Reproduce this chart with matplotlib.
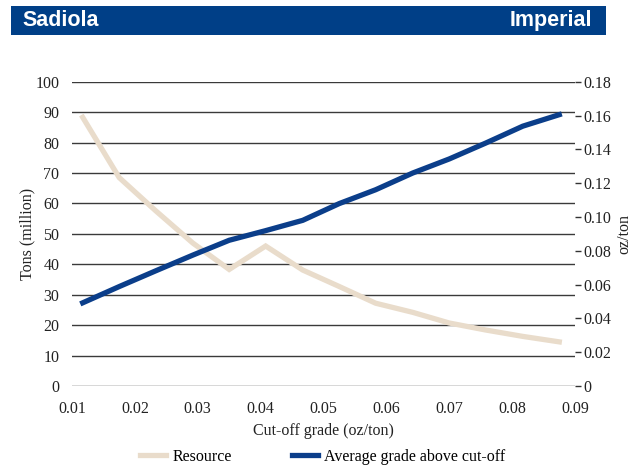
import matplotlib
matplotlib.use("Agg")
import matplotlib.pyplot as plt
from matplotlib.patches import Rectangle
from matplotlib.lines import Line2D

# Data
cutoff = [0.0117, 0.0175, 0.0233, 0.0292, 0.0350, 0.0408, 0.0467,
          0.0525, 0.0583, 0.0642, 0.0700, 0.0758, 0.0817, 0.0875]
resource = [88.3, 68.5, 57.6, 47.0, 38.3, 46.0, 38.1,
            32.7, 27.2, 24.2, 20.7, 18.4, 16.3, 14.5]
avg_grade = [0.0492, 0.0588, 0.0681, 0.0774, 0.0862, 0.0919, 0.0980,
             0.1079, 0.1161, 0.1260, 0.1343, 0.1437, 0.1537, 0.1605]
left_ticks = [0, 10, 20, 30, 40, 50, 60, 70, 80, 90, 100]
right_ticks = [0, 0.02, 0.04, 0.06, 0.08, 0.10, 0.12, 0.14, 0.16, 0.18]
right_labels = ["0", "0.02", "0.04", "0.06", "0.08", "0.10", "0.12", "0.14", "0.16", "0.18"]
x_ticks = [0.01, 0.02, 0.03, 0.04, 0.05, 0.06, 0.07, 0.08, 0.09]
x_labels = ["0.01", "0.02", "0.03", "0.04", "0.05", "0.06", "0.07", "0.08", "0.09"]

BLUE = "#0b3e8a"
BAR = "#003f87"
BEIGE = "#e9dccb"
TXT = "#222222"
serif = "Liberation Serif"
fs = 11.5

W, H = 635, 468
fig = plt.figure(figsize=(W / 100, H / 100), dpi=100)

# header bar
fig.patches.append(Rectangle((11 / W, 1 - 35 / H), (606 - 11) / W, (35 - 5.7) / H,
                             transform=fig.transFigure, facecolor=BAR,
                             edgecolor="none", zorder=0))
fig.text(22 / W, 1 - 20.5 / H, "Sadiola", color="white", fontsize=15.5,
         fontweight="bold", family="Liberation Sans", va="center", ha="left")
fig.text(592 / W, 1 - 20.5 / H, "Imperial", color="white", fontsize=15.5,
         fontweight="bold", family="Liberation Sans", va="center", ha="right")

ax = fig.add_axes([72 / W, 1 - 386 / H, (575 - 72) / W, (386 - 81.7) / H])
ax2 = ax.twinx()

ax.set_xlim(0.01, 0.09)
ax.set_ylim(0, 100)
ax2.set_ylim(0, 0.18)

for a in (ax, ax2):
    for s in a.spines.values():
        s.set_visible(False)
    a.patch.set_visible(False)

for v in left_ticks:
    ax.axhline(v, color="#3a3a3a", lw=1.0, zorder=1)

ax.plot(cutoff, resource, color=BEIGE, lw=3.8, solid_joinstyle="miter", zorder=3)
ax2.plot(cutoff, avg_grade, color=BLUE, lw=3.8, solid_joinstyle="miter", zorder=4)

ax.set_yticks(left_ticks)
ax.set_yticklabels([str(v) for v in left_ticks], family=serif, fontsize=fs, color=TXT)
ax.tick_params(axis="y", length=0, pad=9)
ax.set_xticks(x_ticks)
ax.set_xticklabels(x_labels, family=serif, fontsize=fs, color=TXT)
ax.tick_params(axis="x", length=0, pad=11)

ax2.set_yticks(right_ticks)
ax2.set_yticklabels(right_labels, family=serif, fontsize=fs, color=TXT)
ax2.tick_params(axis="y", length=4, width=1, color="#333333", pad=2, direction="out")

ax.set_ylabel("Tons (million)", family=serif, fontsize=fs, color=TXT, labelpad=0)
ax2.set_ylabel("oz/ton", family=serif, fontsize=fs, color=TXT, labelpad=4,
               rotation=90)
ax.set_xlabel("Cut-off grade (oz/ton)", family=serif, fontsize=fs, color=TXT, labelpad=4)

handles = [Line2D([0], [0], color=BEIGE, lw=3.8),
           Line2D([0], [0], color=BLUE, lw=3.8)]
fig.legend(handles, ["Resource", "Average grade above cut-off"],
           loc="center", bbox_to_anchor=(323 / W, 1 - 457 / H), ncol=2,
           frameon=False, prop={"family": serif, "size": fs},
           handlelength=1.6, handletextpad=0.4, columnspacing=3.8)

fig.savefig("out.png", dpi=100)
